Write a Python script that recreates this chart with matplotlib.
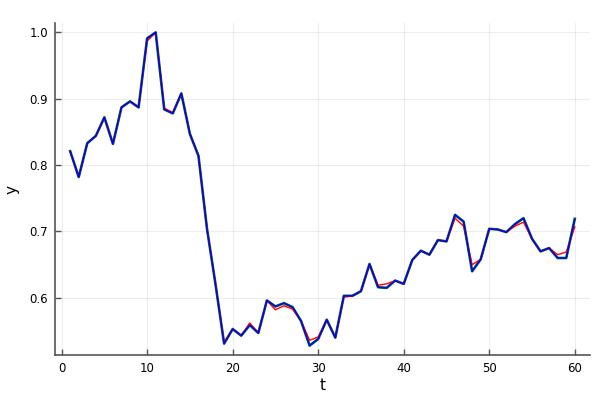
import matplotlib
matplotlib.use("Agg")
import matplotlib.pyplot as plt
import numpy as np

# time index and the three series
t = list(range(1, 61))

y_blue = [
    0.821, 0.782, 0.833, 0.844, 0.872, 0.832, 0.887, 0.896, 0.887, 0.991,
    1.000, 0.884, 0.878, 0.908, 0.847, 0.814, 0.704, 0.620, 0.531, 0.553,
    0.543, 0.559, 0.547, 0.596, 0.587, 0.592, 0.586, 0.565, 0.528, 0.538,
    0.567, 0.540, 0.603, 0.603, 0.610, 0.651, 0.616, 0.615, 0.626, 0.621,
    0.657, 0.671, 0.665, 0.687, 0.685, 0.725, 0.715, 0.640, 0.658, 0.704,
    0.703, 0.699, 0.711, 0.720, 0.689, 0.670, 0.675, 0.660, 0.660, 0.719,
]
y_green = list(y_blue)
y_red = [
    0.821, 0.782, 0.833, 0.844, 0.872, 0.832, 0.887, 0.896, 0.887, 0.987,
    1.000, 0.886, 0.879, 0.908, 0.847, 0.814, 0.704, 0.620, 0.533, 0.553,
    0.543, 0.562, 0.547, 0.596, 0.582, 0.588, 0.583, 0.565, 0.536, 0.541,
    0.567, 0.540, 0.601, 0.603, 0.610, 0.651, 0.619, 0.621, 0.626, 0.621,
    0.657, 0.671, 0.665, 0.687, 0.685, 0.720, 0.708, 0.650, 0.658, 0.704,
    0.703, 0.699, 0.708, 0.714, 0.689, 0.670, 0.675, 0.665, 0.669, 0.707,
]

x_ticks = [0, 10, 20, 30, 40, 50, 60]
y_ticks = [0.6, 0.7, 0.8, 0.9, 1.0]

fig = plt.figure(figsize=(6, 4), dpi=100)
ax = fig.add_axes([0.0917, 0.1125, 0.8915, 0.83])

ax.plot(t, y_red, color="#ff0000", lw=1.0, zorder=3)
ax.plot(t, y_green, color="#008000", lw=1.9, zorder=2)
ax.plot(t, y_blue, color="#0000ff", lw=1.1, zorder=4)

# Plots.jl style: 3% padding, light grid, left/bottom frame only
allv = np.concatenate([y_red, y_green, y_blue])
pad = (allv.max() - allv.min()) * 0.03
ax.set_ylim(allv.min() - pad, allv.max() + pad)
xpad = (max(t) - min(t)) * 0.03
ax.set_xlim(min(t) - xpad, max(t) + xpad)

ax.set_xticks(x_ticks)
ax.set_yticks(y_ticks)
ax.set_yticklabels([f"{v:.1f}" for v in y_ticks])
ax.grid(True, color="black", alpha=0.07, lw=0.8)
ax.set_axisbelow(True)
for s in ["top", "right"]:
    ax.spines[s].set_visible(False)
for s in ["left", "bottom"]:
    ax.spines[s].set_color("#555555")
    ax.spines[s].set_linewidth(1.2)
ax.tick_params(direction="in", length=4, width=1, color="#555555",
               labelsize=8.5, pad=5)
ax.set_xlabel("t", fontsize=11, labelpad=2)
ax.set_ylabel("y", fontsize=11, labelpad=7)

fig.savefig("out.png", dpi=100)
